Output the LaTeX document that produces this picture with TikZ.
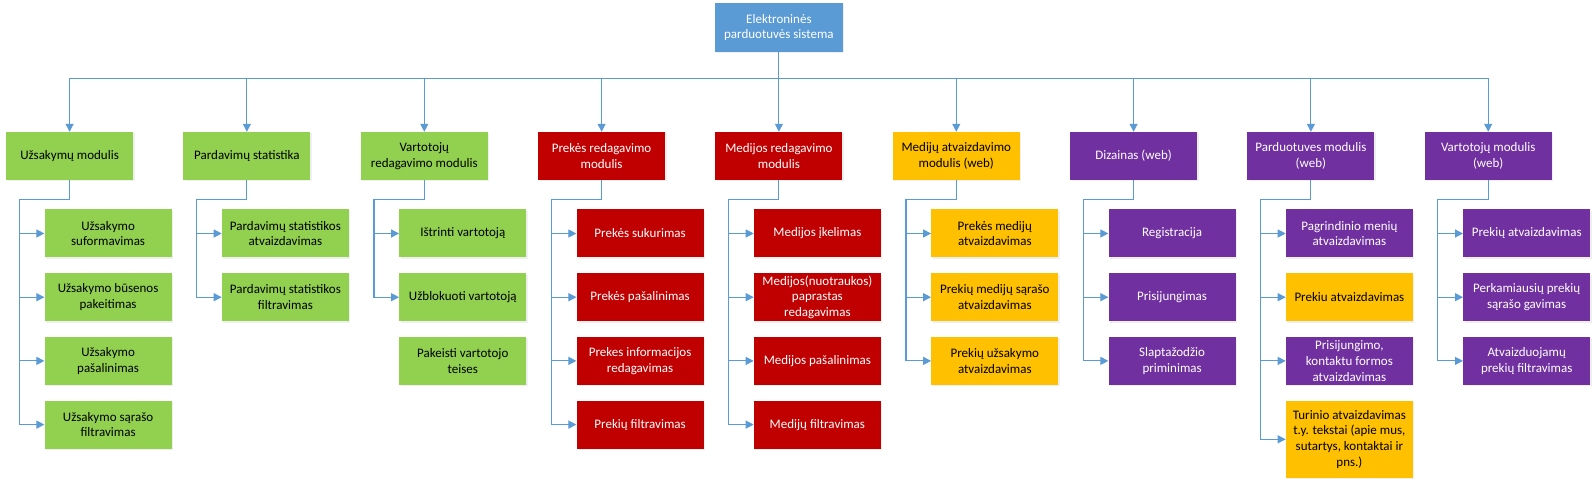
\documentclass[tikz,border=0pt]{standalone}
\usepackage{fontspec}
\setmainfont{Carlito}
\usetikzlibrary{arrows.meta,shadows}
\definecolor{cblue}{HTML}{5B9BD5}
\definecolor{cline}{HTML}{5B9BD5}
\definecolor{cgreen}{HTML}{92D050}
\definecolor{cred}{HTML}{C00000}
\definecolor{cyellow}{HTML}{FFC000}
\definecolor{cpurple}{HTML}{7030A0}
\begin{document}
\begin{tikzpicture}[x=1pt,y=-1pt,
  box/.style={minimum width=127pt,minimum height=48pt,inner sep=0pt,align=center,
    font=\fontsize{13}{15.7}\selectfont,
    drop shadow={shadow xshift=1.5pt,shadow yshift=-1.5pt,opacity=0.12}},
  bluebox/.style={box,fill=cblue,text=white},
  greenbox/.style={box,fill=cgreen,text=black},
  redbox/.style={box,fill=cred,text=white},
  yellowbox/.style={box,fill=cyellow,text=black},
  purplebox/.style={box,fill=cpurple,text=white},
  conn/.style={draw=cline,line width=1.1pt,-{Triangle[length=8pt,width=8pt]}}]
\useasboundingbox (0,0) rectangle (1596,486);
\fill[white] (0,0) rectangle (1596,486);

% root
\node[bluebox,minimum width=128pt,minimum height=49pt] (top) at (778.9,27.5) {Elektroninės\\parduotuvės sistema};

% level 1
\node[greenbox]  (m1) at (69.6,156)   {Užsakymų modulis};
\node[greenbox]  (m2) at (246.9,156)  {Pardavimų statistika};
\node[greenbox]  (m3) at (424.3,156)  {Vartotojų\\redagavimo modulis};
\node[redbox]    (m4) at (601.6,156)  {Prekės redagavimo\\modulis};
\node[redbox]    (m5) at (778.9,156)  {Medijos redagavimo\\modulis};
\node[yellowbox] (m6) at (956.3,156)  {Medijų atvaizdavimo\\modulis (web)};
\node[purplebox] (m7) at (1133.6,156) {Dizainas (web)};
\node[purplebox] (m8) at (1310.9,156) {Parduotuves modulis\\(web)};
\node[purplebox] (m9) at (1488.2,156) {Vartotojų modulis\\(web)};

% children column 1
\node[greenbox] (a1) at (108.1,233.5) {Užsakymo\\suformavimas};
\node[greenbox] (a2) at (108.1,297.2) {Užsakymo būsenos\\pakeitimas};
\node[greenbox] (a3) at (108.1,360.9) {Užsakymo\\pašalinimas};
\node[greenbox] (a4) at (108.1,424.6) {Užsakymo sąrašo\\filtravimas};
% column 2
\node[greenbox] (b1) at (285.4,233.5) {Pardavimų statistikos\\atvaizdavimas};
\node[greenbox] (b2) at (285.4,297.2) {Pardavimų statistikos\\filtravimas};
% column 3
\node[greenbox] (c1) at (462.8,233.5) {Ištrinti vartotoją};
\node[greenbox] (c2) at (462.8,297.2) {Užblokuoti vartotoją};
\node[greenbox] (c3) at (462.8,360.9) {Pakeisti vartotojo\\teises};
% column 4
\node[redbox] (d1) at (640.1,233.5) {Prekės sukurimas};
\node[redbox] (d2) at (640.1,297.2) {Prekės pašalinimas};
\node[redbox] (d3) at (640.1,360.9) {Prekes informacijos\\redagavimas};
\node[redbox] (d4) at (640.1,424.6) {Prekių filtravimas};
% column 5
\node[redbox] (e1) at (817.4,233.5) {Medijos įkelimas};
\node[redbox] (e2) at (817.4,297.2) {Medijos(nuotraukos)\\paprastas\\redagavimas};
\node[redbox] (e3) at (817.4,360.9) {Medijos pašalinimas};
\node[redbox] (e4) at (817.4,424.6) {Medijų filtravimas};
% column 6
\node[yellowbox] (f1) at (994.8,233.5) {Prekės medijų\\atvaizdavimas};
\node[yellowbox] (f2) at (994.8,297.2) {Prekių medijų sąrašo\\atvaizdavimas};
\node[yellowbox] (f3) at (994.8,360.9) {Prekių užsakymo\\atvaizdavimas};
% column 7
\node[purplebox] (g1) at (1172.1,233.5) {Registracija};
\node[purplebox] (g2) at (1172.1,297.2) {Prisijungimas};
\node[purplebox] (g3) at (1172.1,360.9) {Slaptažodžio\\priminimas};
% column 8
\node[purplebox] (h1) at (1349.4,233.5) {Pagrindinio menių\\atvaizdavimas};
\node[yellowbox] (h2) at (1349.4,297.2) {Prekiu atvaizdavimas};
\node[purplebox] (h3) at (1349.4,360.9) {Prisijungimo,\\kontaktu formos\\atvaizdavimas};
\node[yellowbox,minimum height=77pt] (h4) at (1349.4,439.3) {Turinio atvaizdavimas\\t.y. tekstai (apie mus,\\sutartys, kontaktai ir\\pns.)};
% column 9
\node[purplebox] (i1) at (1526.7,233.5) {Prekių atvaizdavimas};
\node[purplebox] (i2) at (1526.7,297.2) {Perkamiausių prekių\\sąrašo gavimas};
\node[purplebox] (i3) at (1526.7,360.9) {Atvaizduojamų\\prekių filtravimas};

% root to level 1
\foreach \m in {m1,m2,m3,m4,m5,m6,m7,m8,m9}
  \draw[conn] (top.south) -- ++(0,26.5) -| (\m.north);

% level 1 to children
\foreach \p/\cs in {m1/{a1,a2,a3,a4},m2/{b1,b2},m3/{c1,c2},m4/{d1,d2,d3,d4},
                    m5/{e1,e2,e3,e4},m6/{f1,f2,f3},m7/{g1,g2,g3},
                    m8/{h1,h2,h3,h4},m9/{i1,i2,i3}}
  \foreach \c in \cs
    \draw[conn] (\p.south) -- ++(0,19.3) -- ++(-50.3,0) |- (\c.west);
\end{tikzpicture}
\end{document}
